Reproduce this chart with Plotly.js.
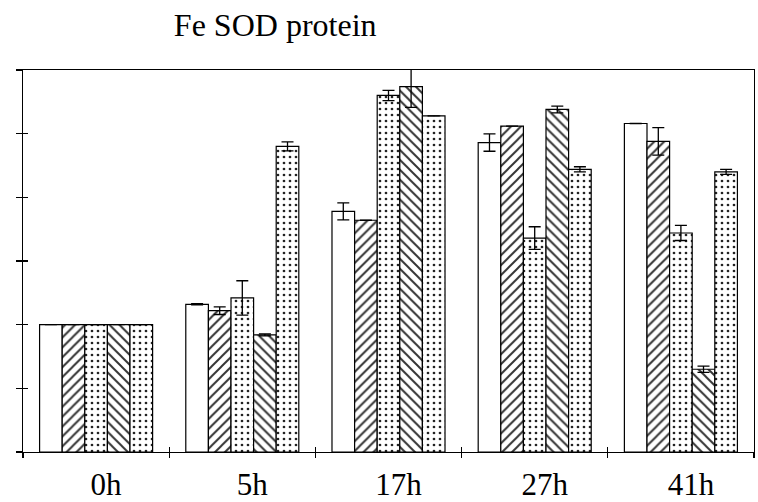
<!DOCTYPE html>
<html>
<head>
<meta charset="utf-8">
<script src="https://cdn.plot.ly/plotly-3.0.1.min.js"></script>
<style>html,body{margin:0;padding:0;background:#fff;}#chart{width:758px;height:502px;}</style>
</head>
<body>
<div id="chart"></div>
<script>
// Data (relative Fe SOD protein level, 0h = 1)
var categories = ["0h", "5h", "17h", "27h", "41h"];
var series1 = [1.00, 1.16, 1.89, 2.43, 2.58];
var series1Err = [0, 0.005, 0.067, 0.068, 0];
var series2 = [1.00, 1.11, 1.82, 2.56, 2.44];
var series2Err = [0, 0.03, 0, 0, 0.108];
var series3 = [1.00, 1.21, 2.80, 1.68, 1.72];
var series3Err = [0, 0.135, 0.04, 0.089, 0.059];
var series4 = [1.00, 0.92, 2.87, 2.69, 0.65];
var series4Err = [0, 0.008, 0.163, 0.027, 0.024];
var series5 = [1.00, 2.40, 2.64, 2.22, 2.20];
var series5Err = [0, 0.035, 0, 0.02, 0.02];
var boundaries = [-0.5, 0.5, 1.5, 2.5, 3.5, 4.5];

var values = [series1, series2, series3, series4, series5];
var errors = [series1Err, series2Err, series3Err, series4Err, series5Err];
var patterns = [
  {shape: ""},
  {shape: "/", size: 7, solidity: 0.28, fgcolor: "#333", bgcolor: "#fff"},
  {shape: ".", size: 6, solidity: 0.16, fgcolor: "#222", bgcolor: "#fff"},
  {shape: "\\", size: 7, solidity: 0.28, fgcolor: "#333", bgcolor: "#fff"},
  {shape: ".", size: 6, solidity: 0.16, fgcolor: "#222", bgcolor: "#fff"}
];

var traces = values.map(function (v, i) {
  return {
    type: "bar",
    x: categories,
    y: v,
    marker: {color: "#fff", line: {color: "#000", width: 1.2}, pattern: patterns[i]},
    error_y: {type: "data", array: errors[i], visible: true, color: "#000", thickness: 1.3, width: 6},
    showlegend: false,
    hoverinfo: "skip"
  };
});
// empty trace so the overlay axes (tick marks inside) exist
traces.push({type: "scatter", x: [], y: [], xaxis: "x2", yaxis: "y2", showlegend: false});

var font = {family: "Times New Roman, Liberation Serif, DejaVu Serif, serif", color: "#000", size: 31};
var titleFont = {family: "Times New Roman, Liberation Serif, DejaVu Serif, serif", color: "#000", size: 32};

var layout = {
  width: 758,
  height: 502,
  margin: {l: 23, r: 4, t: 70, b: 50},
  paper_bgcolor: "#fff",
  plot_bgcolor: "#fff",
  font: font,
  title: {text: "Fe SOD protein", font: titleFont, x: 0.345, xref: "paper", xanchor: "center", y: 0.95, yref: "container", yanchor: "middle"},
  barmode: "group",
  bargap: 0.227,
  bargroupgap: 0,
  xaxis: {
    type: "category",
    tickson: "boundaries",
    ticks: "outside",
    ticklen: 5,
    tickwidth: 1.3,
    tickcolor: "#000",
    showline: true,
    linecolor: "#000",
    linewidth: 1.3,
    mirror: true,
    showgrid: false,
    tickfont: font,
    ticklabelshift: 10,
    ticklabelstandoff: 4
  },
  yaxis: {
    range: [0, 3],
    dtick: 0.5,
    ticks: "outside",
    ticklen: 6,
    tickwidth: 1.3,
    tickcolor: "#000",
    showticklabels: false,
    showline: true,
    linecolor: "#000",
    linewidth: 1.3,
    mirror: true,
    showgrid: false,
    zeroline: false
  },
  xaxis2: {
    overlaying: "x",
    anchor: "y",
    range: [-0.5, 4.5],
    tickmode: "array",
    tickvals: boundaries,
    ticks: "inside",
    ticklen: 5,
    tickwidth: 1.3,
    tickcolor: "#000",
    showticklabels: false,
    showline: false,
    showgrid: false,
    zeroline: false
  },
  yaxis2: {
    overlaying: "y",
    anchor: "x",
    side: "left",
    range: [0, 3],
    dtick: 0.5,
    ticks: "inside",
    ticklen: 5,
    tickwidth: 1.3,
    tickcolor: "#000",
    showticklabels: false,
    showline: false,
    showgrid: false,
    zeroline: false
  }
};

Plotly.newPlot("chart", traces, layout, {staticPlot: true, displayModeBar: false});
</script>
</body>
</html>
